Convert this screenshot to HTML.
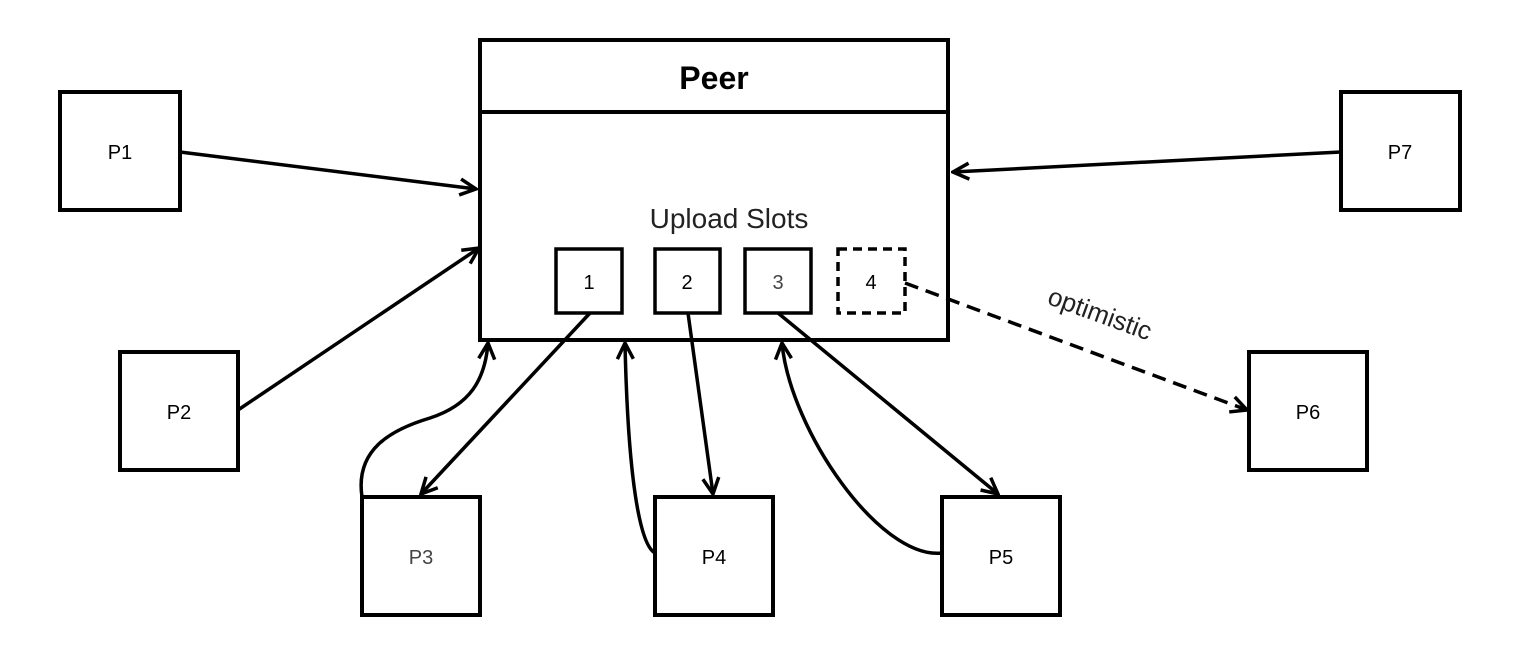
<!DOCTYPE html>
<html><head><style>html,body{margin:0;padding:0;background:#fff;}svg{display:block}</style></head>
<body>
<svg width="1537" height="666" viewBox="0 0 1537 666" xmlns="http://www.w3.org/2000/svg" font-family="Liberation Sans, sans-serif">
<defs>
<marker id="b" viewBox="0 0 20 20" refX="18" refY="10" markerWidth="20" markerHeight="20" markerUnits="userSpaceOnUse" orient="auto">
<path d="M2,2 L18,10 L2,18" fill="none" stroke="#000" stroke-width="3.5"/>
</marker>
</defs>
<g fill="#fff" stroke="#000" stroke-width="4">
<rect x="480" y="40" width="468" height="300"/>
<line x1="480" y1="112" x2="948" y2="112"/>
<rect x="60" y="92" width="120" height="118"/>
<rect x="1341" y="92" width="119" height="118"/>
<rect x="120" y="352" width="118" height="118"/>
<rect x="1249" y="352" width="118" height="118"/>
<rect x="362" y="497" width="118" height="118"/>
<rect x="655" y="497" width="118" height="118"/>
<rect x="942" y="497" width="118" height="118"/>
<rect x="556" y="249" width="66" height="64" stroke-width="3.5"/>
<rect x="655" y="249" width="65" height="64" stroke-width="3.5"/>
<rect x="745" y="249" width="66" height="64" stroke-width="3.5"/>
<rect x="838" y="249" width="67" height="64" stroke-width="3.5" stroke-dasharray="9,6"/>
</g>
<g fill="none" stroke="#000" stroke-width="3.5">
<line x1="180" y1="152" x2="476" y2="189" marker-end="url(#b)"/>
<line x1="1341" y1="152" x2="953" y2="172" marker-end="url(#b)"/>
<line x1="238" y1="410" x2="479" y2="248" marker-end="url(#b)"/>
<line x1="590" y1="313" x2="421" y2="494" marker-end="url(#b)"/>
<path d="M362,497 C355,450 390,430 430,418 C470,405 485,380 488,343" marker-end="url(#b)"/>
<line x1="688" y1="313" x2="713" y2="494" marker-end="url(#b)"/>
<path d="M655,553 C640,545 628,480 625,343" marker-end="url(#b)"/>
<line x1="778" y1="313" x2="998" y2="494" marker-end="url(#b)"/>
<path d="M942,553 C880,560 790,430 782,343" marker-end="url(#b)"/>
<line x1="905" y1="283" x2="1247" y2="410" stroke-dasharray="14,8" marker-end="url(#b)"/>
</g>
<g fill="#000" text-anchor="middle">
<text x="714" y="89" font-size="32" font-weight="bold">Peer</text>
<text x="729" y="228" font-size="28" fill="#222">Upload Slots</text>
<text x="589" y="289" font-size="20">1</text>
<text x="687" y="289" font-size="20">2</text>
<text x="778" y="289" font-size="20" fill="#444">3</text>
<text x="871" y="289" font-size="20">4</text>
<text x="120" y="159" font-size="20">P1</text>
<text x="1400" y="159" font-size="20">P7</text>
<text x="179" y="419" font-size="20">P2</text>
<text x="1308" y="419" font-size="20">P6</text>
<text x="421" y="564" font-size="20" fill="#444">P3</text>
<text x="714" y="564" font-size="20">P4</text>
<text x="1001" y="564" font-size="20">P5</text>
<text x="1097" y="322" font-size="26" fill="#222" transform="rotate(20 1097 322)">optimistic</text>
</g>
</svg>
</body></html>
